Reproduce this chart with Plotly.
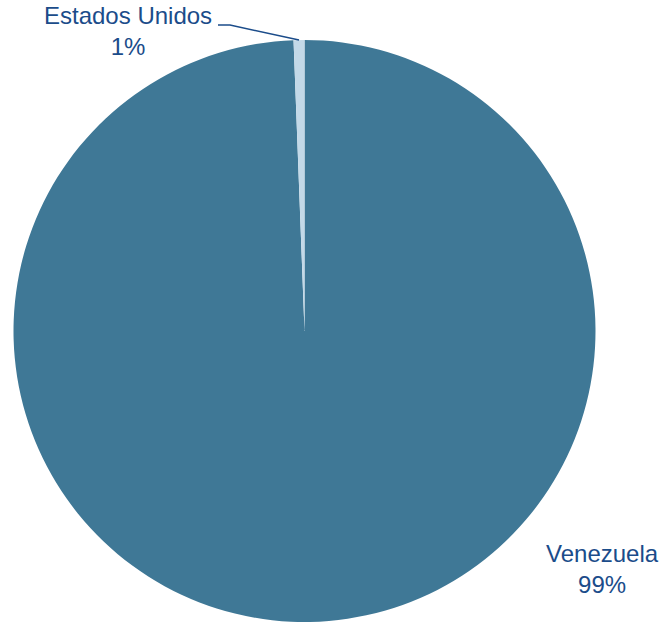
import math
import plotly.graph_objects as go

labels = ["Venezuela", "Estados Unidos"]
values = [99.4, 0.6]
colors = ["#3F7896", "#C3D9E8"]

W, H = 661, 622
total = sum(values)
pct = [round(v / total * 100) for v in values]

fig = go.Figure(go.Pie(
    labels=labels, values=values, sort=False, direction="clockwise", rotation=0,
    marker=dict(colors=colors, line=dict(width=0)),
    textinfo="none", hoverinfo="label+percent", showlegend=False,
    domain=dict(x=[12 / W, 597 / W], y=[0, 1 - 40 / H]),
))

# geometry of pie in pixels
cx, cy, r = 304.5, 331.0, 291.0
# mid-angle of Estados Unidos slice (clockwise from 12 o'clock)
start = values[0] / total * 360
mid = math.radians(start + values[1] / total * 360 / 2)
ex, ey = cx + r * math.sin(mid), cy - r * math.cos(mid)

def px(x):
    return x / W

def py(y):
    return 1 - y / H

txt_color = "#1B4C8A"
font = dict(family="Liberation Sans, Arial, sans-serif", size=24, color=txt_color)

fig.add_shape(type="path",
              path=f"M {px(218)} {py(25)} L {px(230)} {py(25)} L {px(ex)} {py(ey)}",
              xref="paper", yref="paper", line=dict(color=txt_color, width=1.5))

fig.add_annotation(x=px(128), y=py(31), xref="paper", yref="paper",
                   text=f"{labels[1]}<br>{pct[1]}%", showarrow=False, font=font,
                   xanchor="center", yanchor="middle", align="center")
fig.add_annotation(x=px(602), y=py(569), xref="paper", yref="paper",
                   text=f"{labels[0]}<br>{pct[0]}%", showarrow=False, font=font,
                   xanchor="center", yanchor="middle", align="center")

fig.update_layout(width=W, height=H, margin=dict(l=0, r=0, t=0, b=0),
                  paper_bgcolor="white", plot_bgcolor="white")

fig.write_html("out.html", config={"displayModeBar": False},
               post_script="document.body.style.margin='0';document.body.style.overflow='hidden';")
